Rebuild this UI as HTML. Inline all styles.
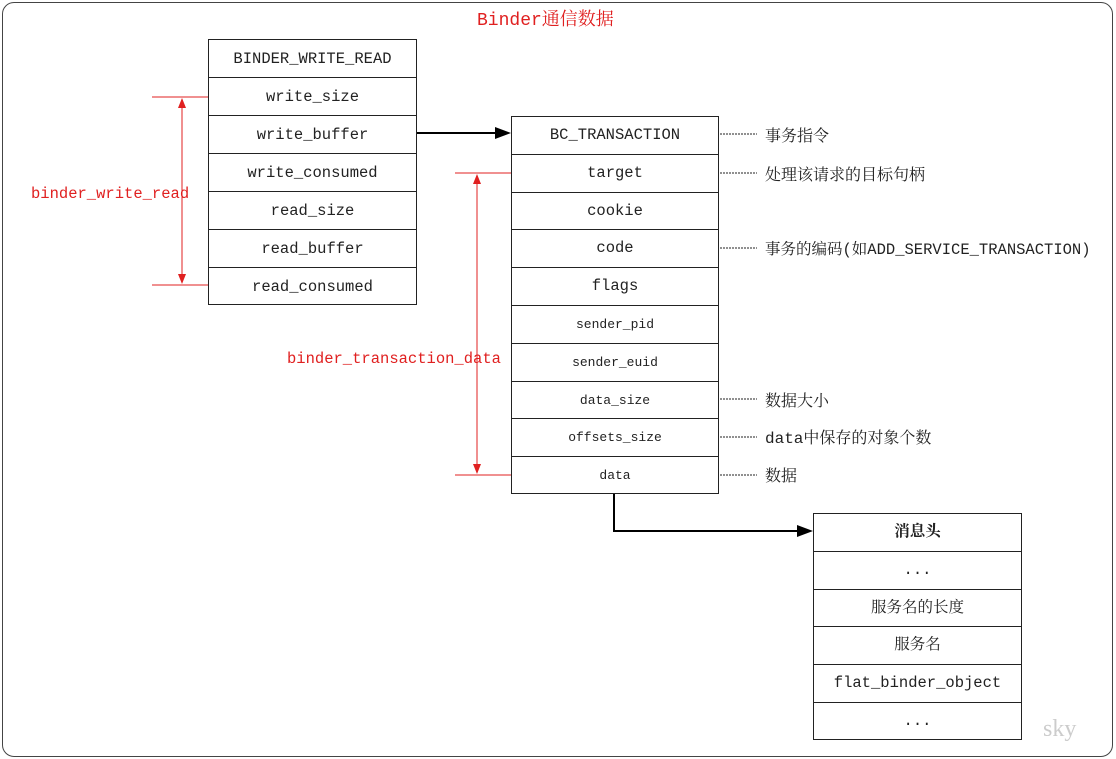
<!DOCTYPE html>
<html><head><meta charset="utf-8"><style>
body{margin:0;width:1116px;height:759px;background:#fff;overflow:hidden;position:relative;font-family:"Liberation Mono","Noto Serif CJK SC",monospace;}
.frame{position:absolute;left:2px;top:2px;width:1109px;height:753px;border:1px solid #444;border-radius:12px;}
.tbl{position:absolute;border:1px solid #222;box-sizing:border-box;}
.tbl div{box-sizing:border-box;border-bottom:1px solid #222;text-align:center;font-size:15.5px;color:#222;}
.tbl div:last-child{border-bottom:none;}
.sm{font-size:13px!important;}
.lbl{position:absolute;font-size:16px;color:#222;white-space:nowrap;}
.red{position:absolute;color:#e02020;font-size:15.5px;white-space:nowrap;}
svg{position:absolute;left:0;top:0;}
</style></head><body>
<div class="frame"></div>
<div class="red" style="left:477px;top:5px;font-size:18px;">Binder通信数据</div>

<div class="tbl" style="left:208px;top:39px;width:209px;height:266px;">
<div style="height:38px;line-height:38px;">BINDER_WRITE_READ</div>
<div style="height:38px;line-height:38px;">write_size</div>
<div style="height:38px;line-height:38px;">write_buffer</div>
<div style="height:38px;line-height:38px;">write_consumed</div>
<div style="height:38px;line-height:38px;">read_size</div>
<div style="height:38px;line-height:38px;">read_buffer</div>
<div style="height:38px;line-height:38px;">read_consumed</div>
</div>

<div class="tbl" style="left:511px;top:116px;width:208px;height:378px;">
<div style="height:37.8px;line-height:37px;">BC_TRANSACTION</div>
<div style="height:37.8px;line-height:37px;">target</div>
<div style="height:37.8px;line-height:37px;">cookie</div>
<div style="height:37.8px;line-height:37px;">code</div>
<div style="height:37.8px;line-height:37px;">flags</div>
<div class="sm" style="height:37.8px;line-height:37px;">sender_pid</div>
<div class="sm" style="height:37.8px;line-height:37px;">sender_euid</div>
<div class="sm" style="height:37.8px;line-height:37px;">data_size</div>
<div class="sm" style="height:37.8px;line-height:37px;">offsets_size</div>
<div class="sm" style="height:37.8px;line-height:37px;">data</div>
</div>

<div class="tbl" style="left:813px;top:513px;width:209px;height:227px;">
<div style="height:37.8px;line-height:37px;font-weight:bold;">消息头</div>
<div style="height:37.8px;line-height:37px;">...</div>
<div style="height:37.8px;line-height:37px;">服务名的长度</div>
<div style="height:37.8px;line-height:37px;">服务名</div>
<div style="height:37.8px;line-height:37px;">flat_binder_object</div>
<div style="height:37.8px;line-height:37px;">...</div>
</div>

<div class="lbl" style="left:765px;top:123px;">事务指令</div>
<div class="lbl" style="left:765px;top:162px;">处理该请求的目标句柄</div>
<div class="lbl" style="left:765px;top:237px;font-size:15.5px;">事务的编码(如ADD_SERVICE_TRANSACTION)</div>
<div class="lbl" style="left:765px;top:388px;">数据大小</div>
<div class="lbl" style="left:765px;top:425px;">data中保存的对象个数</div>
<div class="lbl" style="left:765px;top:463px;">数据</div>

<div class="red" style="left:31px;top:185px;">binder_write_read</div>
<div class="red" style="left:287px;top:350px;">binder_transaction_data</div>
<div style="position:absolute;left:1043px;top:716px;font-size:24px;color:#ccc;font-family:'Liberation Serif',serif;">sky</div>

<svg width="1116" height="759">
<g stroke="#222" stroke-width="1" stroke-dasharray="2,1">
<line x1="720" y1="134" x2="757" y2="134"/>
<line x1="720" y1="173" x2="757" y2="173"/>
<line x1="720" y1="248" x2="757" y2="248"/>
<line x1="720" y1="399" x2="757" y2="399"/>
<line x1="720" y1="437" x2="757" y2="437"/>
<line x1="720" y1="475" x2="757" y2="475"/>
</g>
<g stroke="#000" stroke-width="2" fill="none">
<line x1="417" y1="133" x2="497" y2="133"/>
<polyline points="614,494 614,531 800,531"/>
</g>
<polygon points="511,133 495,127 495,139" fill="#000"/>
<polygon points="813,531 797,525 797,537" fill="#000"/>
<g stroke="#e02020" stroke-width="1">
<line x1="152" y1="97" x2="208" y2="97"/>
<line x1="152" y1="285" x2="208" y2="285"/>
<line x1="182" y1="100" x2="182" y2="282"/>
<line x1="455" y1="173" x2="511" y2="173"/>
<line x1="455" y1="475" x2="511" y2="475"/>
<line x1="477" y1="176" x2="477" y2="472"/>
</g>
<g fill="#e02020">
<polygon points="182,98 178,108 186,108"/>
<polygon points="182,284 178,274 186,274"/>
<polygon points="477,174 473,184 481,184"/>
<polygon points="477,474 473,464 481,464"/>
</g>
</svg>
</body></html>
